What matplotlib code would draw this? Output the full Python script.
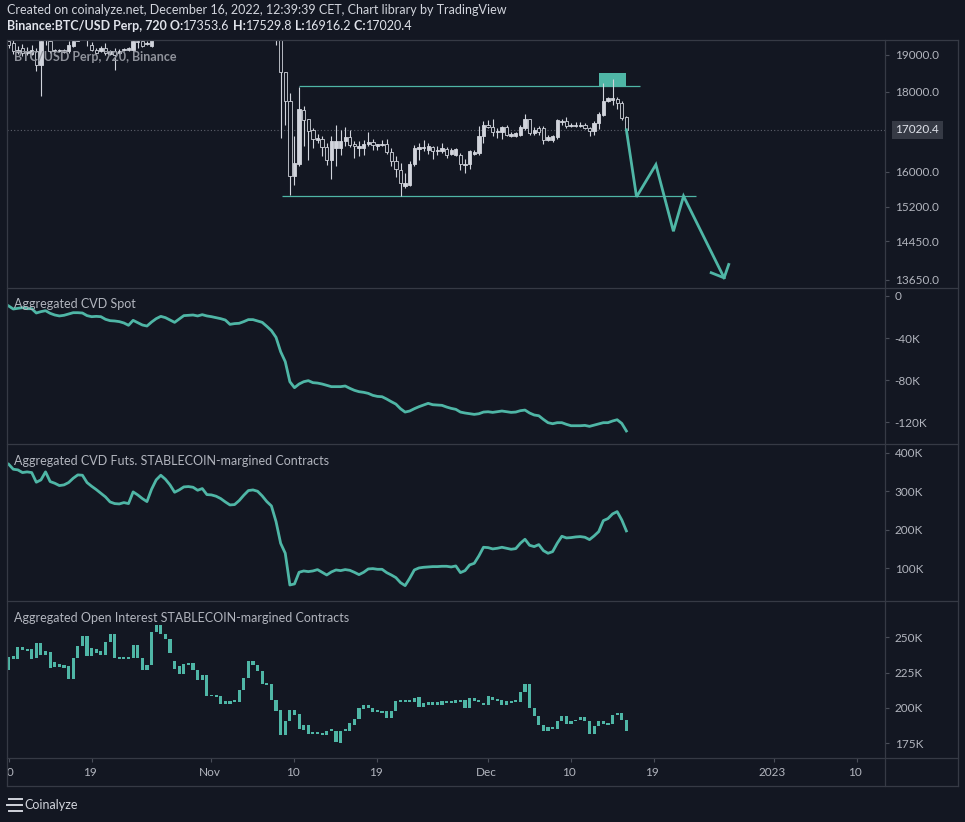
import matplotlib
matplotlib.use("Agg")
import matplotlib.pyplot as plt
from matplotlib.patches import Rectangle
from matplotlib.lines import Line2D
from matplotlib.ticker import FixedLocator, NullLocator, FuncFormatter
from matplotlib.transforms import blended_transform_factory

plt.rcParams['font.family'] = ['Lato', 'DejaVu Sans']

BG = '#131722'
LINE = '#363a45'
TXT = '#b2b5be'
CANDLE = '#d1d4dc'
TEAL = '#4fb6a6'

W, H = 965, 822

# 12h bars, first one opens 2022-10-10; x axis counts days from 2022-11-01
first_day = -22.0
bar_step = 0.5

p_open = [19385, 19337, 19080, 19196, 19056, 19028, 19102, 18733, 19420, 19385,
          19120, 19100, 19140, 19102, 19243, 19400, 19500, 19450, 19290, 19149,
          19102, 19196, 19028, 19102, 19056, 19140, 19130, 19149, 19360, 19385,
          19300, 19243,
          19450, 20300, 20770, 20500, 20290, 20200, 20600, 20800, 20620, 20700,
          20630, 20550, 20490, 20500, 20480, 20400, 20150, 20220, 20200, 20700,
          21150, 21300, 21290, 21100, 20900, 20700, 20600,
          19700, 18541, 17743, 15895, 16193, 17528, 17290, 17021, 16758, 16790,
          16594, 16273, 16570, 16570, 16733, 16840, 16667, 16570, 16570, 16676,
          16725, 16626, 16634, 16667, 16465, 16249, 16052, 15680, 15702, 16193,
          16545, 16570, 16513, 16586, 16489, 16497, 16545, 16433, 16408, 16408,
          16170, 16193, 16433, 16449, 16856, 17147, 17088, 16955, 16955, 17080,
          16856, 16856, 16897, 17063, 17290, 16938, 17063, 17063, 16758, 16774,
          16840, 17206, 17231, 17105, 17105, 17122, 17147, 17063, 16980, 17189,
          17400, 17743, 17787, 17804, 17700, 17353.6]
p_high = [19500, 19420, 19250, 19300, 19230, 19280, 19180, 19500, 19700, 19500,
          19170, 19170, 19170, 19385, 19550, 19600, 19650, 19600, 19350, 19190,
          19240, 19337, 19130, 19196, 19160, 19196, 19230, 19500, 19550, 19450,
          19400, 19600,
          20400, 20850, 20880, 20560, 20380, 20700, 20900, 20830, 20800, 20740,
          20680, 20600, 20650, 20600, 20780, 20450, 20350, 20280, 20750, 21250,
          21450, 21400, 21350, 21200, 21000, 20850, 20700,
          19800, 18541, 17961, 16856, 18138, 17614, 17290, 17063, 16913, 16856,
          16692, 16856, 17147, 17004, 17088, 17021, 16733, 16733, 16774, 16955,
          16790, 16680, 16774, 16790, 16570, 16368, 16209, 15973, 16249, 16651,
          16692, 16774, 16692, 16610, 16610, 16692, 16594, 16570, 16570, 16449,
          16305, 16529, 16513, 17122, 17231, 17273, 17290, 17063, 17122, 17147,
          16955, 16955, 17147, 17425, 17290, 17080, 17105, 17105, 16897, 16897,
          17290, 17290, 17340, 17189, 17206, 17206, 17189, 17080, 17231, 17460,
          18227, 17856, 18334, 17856, 17743, 17380]
p_low = [19196, 19028, 19030, 18963, 19000, 18990, 18550, 17883, 19290, 19056,
         19080, 19080, 19056, 19056, 19220, 19385, 19430, 19243, 19102, 19030,
         19080, 19009, 19000, 18596, 19030, 19102, 19110, 19130, 19196, 19220,
         19290, 19220,
         19440, 20200, 20400, 20200, 19950, 20150, 20550, 20550, 20580, 20500,
         20450, 20250, 20400, 20350, 20300, 20050, 20080, 20050, 20150, 20650,
         21050, 21150, 21000, 20850, 20550, 20400, 19290,
         16815, 17147, 15474, 15702, 16150, 16610, 16289, 16570, 16692, 16368,
         16170, 15833, 16130, 16408, 16610, 16594, 16328, 16368, 16408, 16626,
         16529, 16513, 16610, 16433, 16130, 15880, 15451, 15626, 15664, 16130,
         16289, 16489, 16433, 16305, 16408, 16449, 16328, 16408, 16384, 16036,
         15973, 16068, 16408, 16408, 16692, 17063, 16856, 16815, 16790, 16856,
         16840, 16840, 16856, 17021, 16897, 16897, 16897, 16676, 16733, 16708,
         16790, 17147, 17063, 17088, 17088, 17088, 17038, 16856, 16897, 17038,
         17380, 17717, 17657, 17545, 17273, 16916.2]
p_close = [19290, 19102, 19149, 19056, 19120, 19149, 18733, 19385, 19550, 19120,
           19130, 19140, 19090, 19290, 19385, 19500, 19450, 19520, 19149, 19056,
           19196, 19056, 19102, 19009, 19120, 19150, 19196, 19385, 19385, 19243,
           19337, 19430,
           20300, 20770, 20500, 20290, 20200, 20600, 20800, 20620, 20700, 20630,
           20550, 20490, 20500, 20480, 20400, 20150, 20220, 20200, 20700, 21150,
           21300, 21290, 21100, 20900, 20700, 20600, 19700,
           18541, 17743, 15895, 16209, 17554, 17273, 16980, 16799, 16815, 16594,
           16273, 16733, 16733, 16733, 16840, 16651, 16610, 16626, 16676, 16725,
           16651, 16667, 16667, 16465, 16249, 16068, 15741, 15741, 16193, 16570,
           16594, 16586, 16610, 16505, 16529, 16562, 16408, 16529, 16545, 16193,
           16193, 16489, 16481, 16856, 17147, 17088, 16955, 16996, 17080, 16897,
           16922, 16938, 17088, 17290, 16938, 17021, 16955, 16758, 16840, 16856,
           17256, 17248, 17122, 17147, 17147, 17147, 17063, 16980, 17189, 17425,
           17743, 17830, 17830, 17700, 17315, 17020.4]

# aggregated CVD spot, thousands
cvd_spot = [-9.5, -12.4, -11.7, -11.1, -12.1, -12.1, -16.2, -14.9, -14.0, -16.5,
            -18.1, -19.0, -18.4, -17.1, -15.9, -15.9, -16.2, -18.7, -19.7, -19.4,
            -19.7, -22.2, -23.5, -23.8, -24.4, -25.7, -27.9, -23.2, -25.4, -27.6,
            -28.6, -24.8, -21.6, -19.4, -20.6, -22.9, -25.1, -21.9, -18.7, -18.4,
            -18.1, -19.0, -17.8, -19.0, -19.7, -20.6, -21.6, -22.9, -27.0, -26.3,
            -26.0, -24.4, -22.5, -22.5, -23.8, -25.1, -28.9, -33.0, -39.4, -53.0,
            -62.5, -81.6, -87.3, -83.8, -81.6, -80.6, -82.5, -82.9, -83.8, -85.1,
            -86.3, -86.3, -86.3, -85.7, -87.9, -89.8, -91.1, -91.7, -92.7, -94.6,
            -95.6, -95.9, -98.1, -100.6, -102.9, -107.3, -110.5, -109.5, -107.3, -105.4,
            -103.8, -102.2, -103.5, -103.8, -104.1, -105.7, -107.0, -107.9, -110.5, -111.4,
            -112.1, -112.7, -112.1, -110.5, -110.2, -110.8, -110.2, -109.5, -110.2, -110.8,
            -110.5, -109.2, -108.6, -111.4, -113.3, -114.0, -117.5, -120.6, -121.6, -120.6,
            -120.6, -122.2, -123.5, -123.5, -123.5, -123.2, -124.1, -122.9, -121.6, -120.6,
            -120.6, -119.0, -117.8, -121.3, -128.5]

# aggregated CVD futures (stablecoin margined), thousands
cvd_futs = [370.1, 357.1, 355.4, 348.4, 350.2, 348.4, 323.3, 329.4, 350.2, 325.1,
            320.7, 314.7, 316.4, 322.5, 333.7, 342.4, 341.5, 322.5, 312.9, 304.3,
            294.7, 285.2, 272.2, 267.9, 267.0, 270.5, 267.9, 298.2, 290.4, 280.9,
            273.1, 305.1, 329.4, 341.5, 331.1, 316.4, 297.3, 303.4, 311.2, 312.1,
            310.3, 302.5, 306.9, 291.3, 290.4, 287.0, 280.9, 272.2, 264.4, 265.3,
            275.7, 289.5, 301.7, 303.4, 299.9, 287.8, 273.1, 261.8, 221.2, 164.9,
            139.0, 56.6, 59.3, 89.5, 93.0, 91.3, 93.0, 96.5, 89.5, 82.6,
            90.4, 95.6, 93.9, 96.5, 94.7, 89.5, 83.5, 89.5, 98.2, 99.1,
            97.3, 97.3, 88.7, 82.6, 75.7, 62.7, 54.9, 74.0, 95.6, 100.8,
            102.5, 103.4, 104.3, 104.3, 105.1, 105.1, 103.4, 106.0, 88.7, 93.9,
            108.6, 112.9, 132.0, 154.5, 153.6, 150.2, 151.9, 154.5, 151.9, 149.3,
            151.0, 164.9, 175.3, 159.7, 156.2, 161.4, 145.8, 138.9, 143.2, 164.9,
            183.1, 178.7, 179.6, 181.3, 182.2, 180.5, 174.4, 184.0, 195.2, 223.7,
            229.0, 241.1, 247.1, 225.5, 197.0]

# aggregated open interest (stablecoin margined), thousands
oi_open = [226.6, 236.5, 234.9, 243.1, 241.7, 241.7, 235.4, 246.0, 237.7, 239.6,
           229.0, 231.1, 230.2, 229.5, 220.7, 235.4, 243.6, 250.7, 236.5, 241.7,
           237.7, 237.7, 246.7, 252.3, 235.4, 234.6, 235.4, 235.4, 244.3, 235.4,
           226.6, 230.2, 253.8, 258.5, 252.3, 248.8, 233.5, 229.5, 224.3, 230.6,
           231.8, 226.6, 220.0, 223.1, 208.2, 209.4, 208.2, 203.0, 204.7, 204.2,
           204.2, 212.9, 221.2, 233.0, 230.2, 225.9, 217.0, 217.0, 205.9, 198.8,
           180.6, 191.0, 198.6, 195.7, 184.6, 187.7, 181.6, 183.0, 182.3, 180.6,
           183.9, 183.5, 175.2, 183.9, 183.9, 188.2, 192.2, 199.5, 202.3, 200.0,
           197.1, 198.1, 198.1, 192.9, 198.1, 204.2, 205.2, 204.2, 204.2, 207.5,
           200.4, 202.3, 204.0, 202.3, 202.3, 204.7, 203.5, 203.5, 205.9, 205.9,
           200.0, 207.0, 205.9, 203.5, 202.3, 207.5, 206.3, 205.9, 202.3, 204.7,
           204.2, 204.2, 211.3, 217.2, 200.0, 194.1, 187.7, 183.9, 185.3, 185.3,
           191.0, 194.1, 188.6, 190.5, 191.7, 193.6, 190.5, 181.6, 187.0, 188.6,
           189.4, 188.6, 195.3, 196.2, 191.7]
oi_close = [235.8, 234.9, 243.1, 241.2, 240.1, 234.6, 246.0, 237.7, 240.1, 228.3,
            232.5, 229.0, 228.3, 220.7, 235.4, 243.6, 250.7, 236.5, 242.4, 238.9,
            240.1, 246.7, 252.3, 235.4, 234.6, 235.4, 234.6, 244.3, 235.4, 226.6,
            230.6, 253.8, 258.5, 252.3, 248.8, 238.9, 227.8, 224.3, 231.1, 231.8,
            226.6, 220.0, 223.1, 208.2, 209.4, 207.5, 203.0, 204.7, 203.0, 205.2,
            212.9, 221.2, 233.0, 230.2, 225.9, 217.0, 216.5, 205.9, 198.1, 180.6,
            191.0, 198.6, 195.3, 185.3, 187.7, 181.6, 183.0, 181.6, 180.6, 183.9,
            183.5, 175.9, 183.9, 184.6, 189.4, 192.2, 200.0, 202.3, 200.0, 197.1,
            198.1, 196.4, 192.9, 198.1, 204.7, 205.2, 204.2, 205.2, 207.0, 200.4,
            203.5, 204.0, 202.3, 204.0, 204.7, 203.5, 204.7, 205.9, 204.0, 200.0,
            207.0, 204.7, 204.0, 202.3, 208.2, 205.9, 205.2, 202.3, 204.7, 203.5,
            205.2, 211.3, 217.2, 200.0, 194.1, 187.7, 183.9, 186.3, 186.3, 191.0,
            194.1, 188.6, 190.5, 191.7, 193.6, 190.5, 181.6, 187.0, 190.5, 190.5,
            188.2, 195.3, 196.2, 191.7, 183.9]

# drawings on the price pane
range_top, range_top_days = 18150, (9.5, 46.5)
range_bottom, range_bottom_days = 15450, (7.6, 52.6)
box_days, box_prices = (42.0, 45.0), (18156, 18496)
proj_days = [45.0, 46.1, 48.2, 50.1, 51.2, 55.6]
proj_prices = [17020.4, 15423, 16171, 14663, 15440, 13693]
head_days = [54.2, 55.6, 56.1]
head_prices = [13796, 13693, 13965]

price_ticks = [19000, 18000, 16000, 15200, 14450, 13650]
last_close = 17020.4
spot_ticks = [0, -40, -80, -120]
futs_ticks = [100, 200, 300, 400]
oi_ticks = [175, 200, 225, 250]

time_days = [-22, -13, 0, 9, 18, 30, 39, 48, 61, 70]
time_labels = ['10', '19', 'Nov', '10', '19', 'Dec', '10', '19', '2023', '10']

days = [first_day + bar_step * i for i in range(len(p_close))]


def fx(px):
    return px / W


def fy(py):
    return 1 - py / H


def box(top, bottom, left=7, right=885):
    return [fx(left), fy(bottom), fx(right) - fx(left), fy(top) - fy(bottom)]


fig = plt.figure(figsize=(W / 100, H / 100), dpi=100, facecolor=BG)

ax_p = fig.add_axes(box(40, 288))
ax_s = fig.add_axes(box(288, 444))
ax_f = fig.add_axes(box(444, 601))
ax_o = fig.add_axes(box(601, 758))
ax_t = fig.add_axes(box(758, 786))

for ax in (ax_p, ax_s, ax_f, ax_o, ax_t):
    ax.set_facecolor(BG)
    ax.set_xlim(-22.18, 73.05)
    for sp in ax.spines.values():
        sp.set_visible(False)
    ax.set_xticks([])
    ax.yaxis.tick_right()
    ax.tick_params(axis='y', direction='out', length=3, width=0.8,
                   color='#4a4e59', labelcolor=TXT, labelsize=8.5, pad=4)

# candles
bw = 0.36
ax_p.vlines(days, p_low, p_high, color=CANDLE, lw=0.8, zorder=3)
for d, op, cl in zip(days, p_open, p_close):
    lo, hi = min(op, cl), max(op, cl)
    if hi - lo < 12:
        hi = lo + 12
    up = cl >= op
    ax_p.add_patch(Rectangle((d - bw / 2, lo), bw, hi - lo,
                             facecolor=CANDLE if up else BG,
                             edgecolor=CANDLE, lw=0.6, zorder=4))

ax_p.add_patch(Rectangle((box_days[0], box_prices[0]), box_days[1] - box_days[0],
                         box_prices[1] - box_prices[0], facecolor=TEAL,
                         edgecolor='none', zorder=2))
ax_p.hlines(range_top, *range_top_days, color=TEAL, lw=0.9, zorder=2)
ax_p.hlines(range_bottom, *range_bottom_days, color=TEAL, lw=0.9, zorder=2)
ax_p.plot(proj_days, proj_prices, color=TEAL, lw=2.0, zorder=5,
          solid_joinstyle='miter')
ax_p.plot(head_days, head_prices, color=TEAL, lw=2.0, zorder=5)
ax_p.axhline(last_close, color='#5d606b', lw=0.8, ls=(0, (1, 2)), zorder=1)

ax_p.set_yscale('log')
ax_p.set_ylim(13490, 19421)
ax_p.yaxis.set_major_locator(FixedLocator(price_ticks))
ax_p.yaxis.set_minor_locator(NullLocator())
ax_p.yaxis.set_major_formatter(FuncFormatter(lambda v, p: f'{v:.1f}'))
ax_p.annotate(f'{last_close:.1f}', xy=(1, last_close),
              xycoords=blended_transform_factory(ax_p.transAxes, ax_p.transData),
              xytext=(7.5, 0), textcoords='offset points', va='center', ha='left',
              color='#e0e3eb', fontsize=8.5, annotation_clip=False,
              bbox=dict(boxstyle='square,pad=0.3', fc='#363a45', ec='none'))

# CVD panes
ax_s.plot(days, cvd_spot, color=TEAL, lw=2.0)
ax_s.set_ylim(-140.9, 7.6)
ax_s.yaxis.set_major_locator(FixedLocator(spot_ticks))
ax_s.yaxis.set_major_formatter(FuncFormatter(lambda v, p: '0' if v == 0 else f'{v:.0f}K'))

ax_f.plot(days, cvd_futs, color=TEAL, lw=2.0)
ax_f.set_ylim(15, 422.6)
ax_f.yaxis.set_major_locator(FixedLocator(futs_ticks))
ax_f.yaxis.set_major_formatter(FuncFormatter(lambda v, p: f'{v:.0f}K'))

# open interest bars
ow = 0.34
for d, op, cl in zip(days, oi_open, oi_close):
    lo, hi = min(op, cl), max(op, cl)
    if hi - lo < 1.3:
        hi = lo + 1.3
    ax_o.add_patch(Rectangle((d - ow / 2, lo), ow, hi - lo,
                             facecolor=TEAL, edgecolor='none'))
ax_o.set_ylim(164.6, 275.7)
ax_o.yaxis.set_major_locator(FixedLocator(oi_ticks))
ax_o.yaxis.set_major_formatter(FuncFormatter(lambda v, p: f'{v:.0f}K'))

# time scale
ax_t.set_ylim(0, 1)
ax_t.set_yticks([])
ax_t.set_xticks(time_days)
ax_t.xaxis.tick_top()
ax_t.tick_params(axis='x', direction='in', length=3, width=0.8, color='#4a4e59',
                 labeltop=False, labelbottom=False)
for d, lab in zip(time_days, time_labels):
    t = ax_t.text(d - 0.2, 0.5, lab, ha='center', va='center', color=TXT,
                  fontsize=8.5, clip_on=True)
    t.set_clip_box(ax_t.bbox)

# frame lines
for y in (40, 288, 444, 601, 758, 786):
    fig.add_artist(Line2D([fx(7), fx(958)], [fy(y), fy(y)], color=LINE, lw=0.9,
                          transform=fig.transFigure))
for x in (7, 885, 958):
    fig.add_artist(Line2D([fx(x), fx(x)], [fy(40), fy(786)], color=LINE, lw=0.9,
                          transform=fig.transFigure))

# header
fig.text(fx(7), fy(10), 'Created on coinalyze.net, December 16, 2022, 12:39:39 CET, '
         'Chart library by TradingView', color='#d1d4dc', fontsize=9,
         ha='left', va='center')
parts = [('Binance:BTC/USD Perp, 720 O:', 'bold'), ('17353.6', 'normal'),
         (' H:', 'bold'), ('17529.8', 'normal'), (' L:', 'bold'),
         ('16916.2', 'normal'), (' C:', 'bold'), ('17020.4', 'normal')]
prev = fig.text(fx(7), fy(26), parts[0][0], color='#e0e3eb', fontsize=9,
                weight=parts[0][1], ha='left', va='center')
for s, wt in parts[1:]:
    prev = ax_p.annotate(s, xy=(1, 0), xycoords=prev, ha='left', va='bottom',
                         color='#e0e3eb', fontsize=9, weight=wt,
                         annotation_clip=False)

# pane titles
fig.text(fx(14), fy(57), 'BTC/USD Perp, 720, Binance', color='#8f929b',
         fontsize=9, weight='bold', ha='left', va='center', zorder=10)
fig.text(fx(14), fy(304), 'Aggregated CVD Spot', color=TXT, fontsize=9,
         ha='left', va='center')
fig.text(fx(14), fy(461), 'Aggregated CVD Futs. STABLECOIN-margined Contracts',
         color=TXT, fontsize=9, ha='left', va='center')
fig.text(fx(14), fy(618), 'Aggregated Open Interest STABLECOIN-margined Contracts',
         color=TXT, fontsize=9, ha='left', va='center')

# footer logo
for y, x0 in ((799, 9), (805, 7), (811, 9)):
    fig.add_artist(Line2D([fx(x0), fx(22)], [fy(y), fy(y)], color='#d1d4dc',
                          lw=1.4, transform=fig.transFigure))
fig.text(fx(24), fy(805), 'Coinalyze', color='#d1d4dc', fontsize=9,
         ha='left', va='center')

fig.savefig('out.png', dpi=100, facecolor=BG)
